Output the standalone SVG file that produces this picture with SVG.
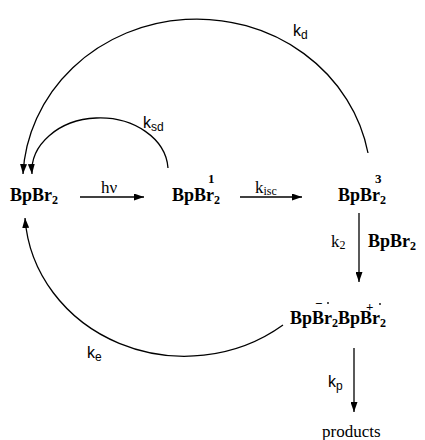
<svg xmlns="http://www.w3.org/2000/svg" width="425" height="440" viewBox="0 0 425 440">
<style>
.sp{font-family:"Liberation Serif",serif;font-weight:bold;font-size:18px;fill:#000}
.sup{font-family:"Liberation Serif",serif;font-weight:bold;font-size:13px;fill:#000}
.lbl{font-family:"Liberation Serif",serif;font-size:17px;fill:#000}
.k{font-family:"Liberation Sans",sans-serif;font-size:16px;fill:#000}
.sub{font-size:12px}
.ln{fill:none;stroke:#000;stroke-width:1.3}
</style>
<defs>
<marker id="ah" markerUnits="userSpaceOnUse" markerWidth="10" markerHeight="7" refX="10" refY="3.5" orient="auto">
<path d="M0,0 L10,3.5 L0,7 z" fill="#000"/>
</marker>
</defs>
<rect width="425" height="440" fill="#fff"/>
<g id="connectors">
<line class="ln" x1="80" y1="197" x2="144" y2="197" marker-end="url(#ah)"/>
<line class="ln" x1="240" y1="197" x2="302" y2="197" marker-end="url(#ah)"/>
<line class="ln" x1="359" y1="213" x2="359" y2="282" marker-end="url(#ah)"/>
<line class="ln" x1="354" y1="348" x2="354" y2="412" marker-end="url(#ah)"/>
<path class="ln" d="M368,153 A174,163 0 0 0 23,174" marker-end="url(#ah)"/>
<path class="ln" d="M168,168 A68,53 0 0 0 32,174" marker-end="url(#ah)"/>
<path class="ln" d="M283,325 A160,148 0 0 1 25,218" marker-end="url(#ah)"/>
</g>
<g id="labels">
<text class="lbl" x="101" y="193" font-size="18px">hν</text>
<text class="lbl" x="255" y="193">k<tspan class="sub" font-size="13px" dy="2">isc</tspan></text>
<text class="lbl" x="331" y="247">k<tspan class="sub" font-size="13px" dy="2">2</tspan></text>
<text class="k" x="293" y="36">k<tspan class="sub" font-size="13px" dy="3">d</tspan></text>
<text class="k" x="143" y="128">k<tspan class="sub" font-size="13px" dy="3">sd</tspan></text>
<text class="k" x="87" y="358">k<tspan class="sub" font-size="13px" dy="3">e</tspan></text>
<text class="k" x="328" y="387">k<tspan class="sub" font-size="13px" dy="3">p</tspan></text>
<text class="sp" x="368" y="247">BpBr<tspan font-size="12px" dy="3">2</tspan></text>
</g>
<g id="node-BpBr2">
<text class="sp" x="10" y="201">BpBr<tspan font-size="12px" dy="3">2</tspan></text>
</g>
<g id="node-singlet">
<text class="sp" x="172" y="201">BpBr<tspan font-size="12px" dy="3">2</tspan></text>
<text class="sup" x="208" y="183">1</text>
</g>
<g id="node-triplet">
<text class="sp" x="338" y="201">BpBr<tspan font-size="12px" dy="3">2</tspan></text>
<text class="sup" x="375" y="183">3</text>
</g>
<g id="node-ionpair">
<text class="sp" x="290" y="324">BpBr<tspan font-size="12px" dy="3">2</tspan><tspan dy="-3">BpBr</tspan><tspan font-size="12px" dy="3">2</tspan></text>
<text class="sup" x="315" y="308">−</text>
<circle cx="328" cy="303" r="0.9" fill="#000"/>
<text class="sup" x="366" y="311">+</text>
<circle cx="380" cy="304" r="0.9" fill="#000"/>
</g>
<g id="node-products">
<text class="lbl" x="322" y="437" font-size="18px">products</text>
</g>
</svg>
